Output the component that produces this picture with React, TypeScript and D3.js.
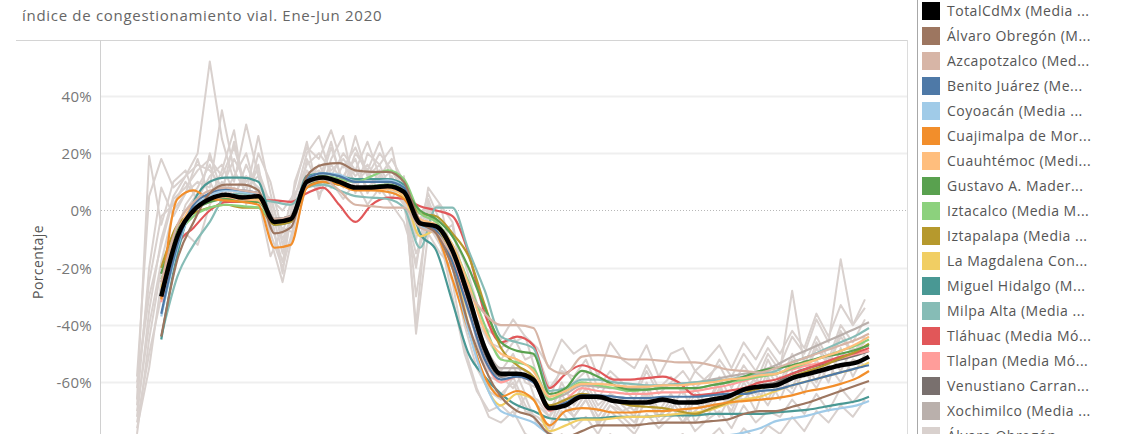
import React, { useEffect, useRef } from "react";
import * as d3 from "d3";

const title = "índice de congestionamiento vial. Ene-Jun 2020";
const yTicks = [40, 20, 0, -20, -40, -60];

// day of year (0 = 1 Jan 2020) for the 7-day moving average points
const avgDays = [
  6, 10, 14, 18, 22, 26, 30, 34, 38, 42, 46, 50, 54, 58, 62, 66, 70, 74, 78, 82, 86, 90, 94,
  98, 102, 106, 110, 114, 118, 122, 126, 130, 134, 138, 142, 146, 150, 154, 158, 162, 166,
  170, 174, 178, 181,
];

// raw daily values are sampled every 3 days starting on 1 Jan
const rawStep = 3;

// moving averages (%)
const totalCdMx = [-30, -9, 0, 4, 5.5, 4.5, 5, -4, -3, 10, 11.5, 10, 8, 8, 8.5, 6.5, -4.5, -5.5, -14, -30, -48, -57, -57, -59, -69, -68, -65, -65, -66.5, -67, -67, -66, -67, -67, -66, -65, -62.5, -61.5, -61, -58.5, -57, -55.5, -54, -53, -51];
const alvaroObregon = [-44, -17, -4, 6, 9, 9, 7, -8, -6, 12, 16, 16.5, 14, 13.5, 13.5, 10, -4, -8, -20, -40, -55, -65, -70, -72, -78, -79, -77, -75, -75, -75, -74.5, -74, -74, -74, -73.5, -73, -71, -70, -70, -68.5, -67, -65, -63, -61, -59.5];
const azcapotzalco = [-25, -5, 3, 7, 8, 7, 6, -3, -2, 9, 11, 7, 2, 1.5, 1, 1, -6, -8, -16, -28, -36, -40, -40, -41, -55, -57, -51, -50.5, -51, -52, -52, -52.5, -53, -53, -54, -55.5, -56, -56.5, -55, -53, -51, -49, -47, -45, -43];
const benitoJuarez = [-36, -12, 2, 6, 7.5, 7, 6, -3, -2, 11, 13, 12, 10, 10, 10, 8, -4, -7, -18, -35, -52, -59, -58, -60, -69, -67, -64.5, -64.5, -65, -65.5, -65.5, -65, -65, -65, -64.5, -64, -64, -63, -62.5, -61, -59.5, -58, -56.5, -55, -54];
const coyoacan = [-37, -13, 1, 5, 7, 6.5, 5.5, -4, -3, 11, 13, 12.5, 10, 10, 10.5, 8, -5, -8, -20, -42, -60, -70, -72, -74, -78, -79, -79, -79, -79.5, -80, -80, -80, -80, -79.5, -79, -78.5, -77.5, -76, -73.5, -72.5, -71.5, -70, -69, -68, -66.5];
const cuajimalpa = [-31, 4, 7, 4, 3.5, 3, 2, -13, -12, 8, 10, 9, 7, 7, 6.5, 4, -4, -8, -24, -42, -58, -65, -63, -66, -75, -70, -69, -69.5, -70.5, -70.5, -70, -70, -69.5, -69, -68, -67, -66.5, -66, -65.5, -64.5, -63, -62, -60.5, -58.5, -56];
const cuauhtemoc = [-25, -8, 2, 4, 5, 4, 3.5, -3, -2, 10, 11, 10.5, 8, 7.5, 7.5, 5.5, -3, -5, -12, -26, -42, -50, -52, -56, -65, -63, -60.5, -60.5, -61, -61.5, -61.5, -61, -61, -60.5, -60, -59, -58.5, -57.5, -57, -54.5, -53, -51, -49, -46.5, -44];
const gustavoAMadero = [-22, -7, 0, 3, 4, 3, 3, -4, -3, 9, 10, 9, 8, 8.5, 9, 7, 0, -3, -9, -20, -34, -46, -49, -50, -64, -62, -56, -58, -61, -62.5, -62.5, -62, -62, -62, -61, -60, -58, -56, -55, -54, -52.5, -51, -50, -48.5, -47];
const iztacalco = [-24, -9, -2, 1, 2, 1.5, 1, -4, -3, 10, 12, 11, 10, 12, 14, 11, -1, -4, -12, -25, -40, -52, -53, -55, -66, -63, -60, -61, -62, -63, -62.5, -62, -62, -62, -61, -60, -59, -58, -57, -55, -53, -51, -49, -47, -45];
const iztapalapa = [-20, -5, -1, 1, 2, 1, 1, -5, -4, 8, 10, 9, 8, 8, 8, 7, -1, -2, -8, -16, -33, -48, -54, -58, -68, -66, -64, -65, -66.5, -68, -68.5, -69, -70, -71, -69, -67, -64, -62, -61, -58, -56, -54, -51.5, -49, -46.5];
const magdalenaContreras = [-27, -10, 1, 4, 5, 4, 4, -4, -3, 10, 11, 10, 8, 7.5, 7.5, 5, -9, -7, -18, -40, -60, -68, -64, -66, -77, -75, -73, -73, -72.5, -72, -72, -71.5, -71, -70.5, -69.5, -67.5, -66, -65, -63, -61, -59.5, -58, -56.5, -55, -53];
const miguelHidalgo = [-45, -15, 3, 10, 11.5, 11.5, 10, -5, -4, 12, 13, 12, 11, 11, 11, 9, -8, -14, -32, -50, -58, -64, -68, -70, -72.5, -73, -72.5, -72.5, -72, -72, -72, -71.5, -71.5, -71.5, -71, -71, -71, -71, -70.5, -70, -69.5, -68.5, -67.5, -66.5, -65];
const milpaAlta = [-44, -23, -12, -4, 5, 6, 4, 3, 2, 8, 9, 7, 5, 4.5, 4, 1, -13, 1, 1, -14, -28, -44, -46, -48, -63, -62, -59, -59, -60, -60.5, -61, -61, -60.5, -60, -59.5, -59, -58, -57, -56, -53, -51, -48.5, -46, -43.5, -41];
const tlahuac = [-30, -12, -6, 0, 3, 3, 3.5, 3.5, 3, 6, 8, 2, -4, 2, 4.5, 4, 1.5, 0, -2, -15, -36, -46, -44, -47, -62, -57, -54, -56, -59, -59, -58.5, -58, -60, -64.5, -64, -63, -62, -60, -59, -57, -55, -53, -51, -49.5, -48];
const tlalpan = [-32, -11, 0, 3, 4.5, 4, 4, -4, -3, 10, 11, 10, 8, 8, 8, 6, -5, -7, -17, -35, -52, -60, -58, -60, -70, -66, -62, -63, -63.5, -64, -64, -63.5, -63.5, -63, -62, -61, -59.5, -58, -57, -55.5, -54, -53, -51.5, -50, -49];
const venustianoCarranza = [-22, -8, 1, 4, 5, 5, 5, -3, -2, 10, 12, 11, 10, 10, 10, 8, -4, -6, -15, -32, -50, -58, -57, -59, -69, -68, -65, -65.5, -66.5, -67, -67, -66.5, -67, -66.5, -66, -65, -63, -61, -60, -57, -55, -53.5, -52, -50.5, -49];
const xochimilco = [-28, -9, 1, 4, 5, 4.5, 4, -4, -3, 9, 11, 10, 8, 8, 8, 6, -5, -6, -14, -30, -47, -55, -55, -58, -66, -64, -61, -61.5, -62, -62, -61.5, -61, -60.5, -60, -59, -58, -57, -56, -54, -51, -48.5, -46, -43.5, -41, -39];

// raw daily values (%), one every 3 days
const rawA = [-58, 5, 18, 8, 12, 20, 52, 25, 10, 30, 12, 0, -22, 10, 22, 18, 28, 15, 22, 12, 20, 14, 8, -40, 4, -8, -5, -28, -38, -42, -45, -38, -44, -48, -55, -45, -50, -47, -58, -46, -52, -55, -47, -58, -50, -48, -56, -52, -47, -55, -46, -52, -44, -50, -42, -48, -36, -44, -33, -40, -31];
const rawB = [-72, -35, -10, 5, 12, 16, 14, 8, 18, 10, 14, 2, -15, 5, 16, 20, 14, 18, 12, 16, 10, 14, 6, -5, 2, -10, -30, -50, -63, -70, -68, -72, -65, -75, -78, -70, -76, -72, -78, -70, -74, -78, -71, -76, -72, -70, -77, -73, -70, -76, -68, -74, -70, -72, -66, -71, -64, -70, -62, -67, -62];
const rawC = [-78, -45, -20, -8, 0, 6, 10, 2, 8, 4, 6, -8, -20, -4, 12, 8, 16, 10, 14, 8, 12, 8, 2, -15, -5, -12, -25, -48, -62, -72, -74, -70, -78, -80, -85, -78, -82, -80, -84, -78, -82, -85, -79, -83, -80, -78, -84, -80, -76, -82, -76, -80, -75, -78, -72, -77, -70, -74, -68, -72, -66];
const rawD = [-66, 19, -5, 10, 14, 2, 20, 6, 24, 4, 16, -10, -25, -5, 18, 8, 22, 10, 26, 12, 16, 6, 10, -43, -8, -15, -20, -40, -55, -63, -66, -58, -68, -74, -76, -64, -72, -66, -75, -68, -72, -76, -64, -74, -70, -62, -74, -68, -60, -72, -62, -70, -58, -66, -56, -64, -52, -60, -48, -58, -50];
const rawE = [-62, -25, -2, 2, 10, 4, 12, 16, 6, 12, 8, 4, -10, 0, 12, 14, 8, 16, 10, 14, 6, 12, 4, -8, 0, -6, -12, -22, -40, -52, -56, -50, -60, -62, -70, -62, -66, -60, -68, -64, -66, -70, -62, -72, -68, -74, -66, -72, -64, -70, -60, -66, -56, -62, -52, -58, -48, -54, -44, -50, -44];
const rawF = [-74, -50, -30, -15, -8, -12, 2, 10, 4, 16, 6, 4, 0, 6, 12, 6, 10, 4, 10, 2, 8, 2, -4, -18, 0, 2, -16, -30, -38, -46, -48, -44, -52, -50, -62, -56, -58, -52, -62, -56, -60, -64, -54, -62, -58, -64, -56, -60, -52, -58, -50, -56, -48, -54, -44, -50, -38, -46, -17, -40, -34];
const rawG = [-70, -40, -18, 0, 6, 10, 8, 35, 14, 6, 26, 6, -12, 2, 14, 10, 24, 8, 20, 14, 24, 10, 4, -10, 6, -4, -8, -18, -32, -46, -52, -46, -44, -58, -66, -54, -60, -56, -66, -58, -62, -66, -56, -64, -60, -56, -62, -58, -54, -62, -54, -60, -50, -56, -28, -54, -44, -52, -40, -46, -38];
const rawH = [-60, -30, -12, 4, 8, 14, 18, 12, 22, 8, 12, -4, -18, 4, 20, 26, 12, 20, 14, 24, 12, 18, 10, -2, 2, -6, -14, -36, -52, -62, -64, -60, -70, -72, -76, -68, -72, -66, -74, -68, -70, -74, -66, -72, -68, -74, -70, -66, -72, -64, -66, -62, -68, -60, -64, -56, -62, -54, -60, -52, -54];
const rawI = [-68, -20, 8, -2, 6, 18, 4, 14, 28, 2, 20, 10, -8, 8, 24, 4, 18, 26, 6, 20, 16, 22, 2, -20, 8, 2, -4, -26, -46, -58, -60, -54, -64, -66, -72, -60, -68, -62, -70, -64, -68, -72, -60, -70, -64, -70, -62, -68, -58, -66, -58, -64, -52, -60, -50, -58, -46, -54, -42, -50, -46];
const rawJ = [-76, -55, -25, -12, 2, 8, 16, 4, 12, 20, 4, -16, -6, -8, 10, 16, 8, 12, 18, 6, 14, 4, 12, -30, -2, -12, -18, -32, -44, -56, -58, -62, -56, -68, -72, -66, -70, -64, -72, -66, -70, -68, -64, -72, -66, -72, -64, -70, -62, -68, -64, -58, -66, -58, -62, -52, -60, -50, -56, -48, -50];

const rawSeries = [rawA, rawB, rawC, rawD, rawE, rawF, rawG, rawH, rawI, rawJ];

const legendLabels = [
  "TotalCdMx (Media ...",
  "Álvaro Obregón (M...",
  "Azcapotzalco (Med...",
  "Benito Juárez (Me...",
  "Coyoacán (Media ...",
  "Cuajimalpa de Mor...",
  "Cuauhtémoc (Medi...",
  "Gustavo A. Mader...",
  "Iztacalco (Media M...",
  "Iztapalapa (Media ...",
  "La Magdalena Con...",
  "Miguel Hidalgo (M...",
  "Milpa Alta (Media ...",
  "Tláhuac (Media Mó...",
  "Tlalpan (Media Mó...",
  "Venustiano Carran...",
  "Xochimilco (Media ...",
  "Álvaro Obregón",
];
const legendColors = [
  "#000000", "#9d7660", "#d7b5a6", "#4e79a7", "#a0cbe8", "#f28e2b", "#ffbe7d", "#59a14f",
  "#8cd17d", "#b6992d", "#f1ce63", "#499894", "#86bcb6", "#e15759", "#ff9d9a", "#79706e",
  "#bab0ac", "#d9d1ce",
];
const avgSeries = [
  totalCdMx, alvaroObregon, azcapotzalco, benitoJuarez, coyoacan, cuajimalpa, cuauhtemoc,
  gustavoAMadero, iztacalco, iztapalapa, magdalenaContreras, miguelHidalgo, milpaAlta,
  tlahuac, tlalpan, venustianoCarranza, xochimilco,
];
const rawColor = "#d9d1ce";

const W = 1139;
const H = 434;
const font = "'Open Sans', sans-serif";

const App = () => {
  const svgRef = useRef<SVGSVGElement | null>(null);

  useEffect(() => {
    const svg = d3.select(svgRef.current);
    svg.selectAll("*").remove();

    const left = 100;
    const right = 907;
    const top = 40;

    const x = d3.scaleLinear().domain([0, 181]).range([137, 869]);
    const y = d3.scaleLinear().domain([-78, 59.5]).range([H, top]);

    svg
      .append("text")
      .attr("x", 22)
      .attr("y", 21)
      .attr("font-family", font)
      .attr("font-size", 15)
      .attr("letter-spacing", 0.7)
      .attr("fill", "#666")
      .text(title);

    // frame
    svg.append("line").attr("x1", 16).attr("x2", right).attr("y1", top + 0.5).attr("y2", top + 0.5).attr("stroke", "#d4d4d4");
    svg.append("line").attr("x1", left + 0.5).attr("x2", left + 0.5).attr("y1", top).attr("y2", H).attr("stroke", "#d0d0d0");
    svg.append("line").attr("x1", right + 0.5).attr("x2", right + 0.5).attr("y1", top).attr("y2", H).attr("stroke", "#dcdcdc");
    svg.append("line").attr("x1", 917.5).attr("x2", 917.5).attr("y1", 0).attr("y2", H).attr("stroke", "#a8a8a8");

    // grid + ticks
    yTicks.forEach((t) => {
      const yy = Math.round(y(t)) + 0.5;
      svg
        .append("line")
        .attr("x1", left + 1)
        .attr("x2", right)
        .attr("y1", yy)
        .attr("y2", yy)
        .attr("stroke", t === 0 ? "#b8b8b8" : "#efefef")
        .attr("stroke-width", t === 0 ? 1 : 2)
        .attr("stroke-dasharray", t === 0 ? "1,2" : null);
      svg
        .append("text")
        .attr("x", 92)
        .attr("y", yy)
        .attr("dy", "0.35em")
        .attr("text-anchor", "end")
        .attr("font-family", font)
        .attr("font-size", 15)
        .attr("letter-spacing", 0.3)
        .attr("fill", "#777")
        .text(`${t}%`);
    });

    svg
      .append("text")
      .attr("transform", `translate(43,262) rotate(-90)`)
      .attr("text-anchor", "middle")
      .attr("font-family", font)
      .attr("font-size", 14)
      .attr("letter-spacing", 0.4)
      .attr("fill", "#555")
      .text("Porcentaje");

    svg
      .append("clipPath")
      .attr("id", "plot-clip")
      .append("rect")
      .attr("x", left + 1)
      .attr("y", top + 1)
      .attr("width", right - left - 1)
      .attr("height", H - top);

    const g = svg.append("g").attr("clip-path", "url(#plot-clip)");

    const rawLine = d3
      .line<number>()
      .x((_, i) => x(i * rawStep))
      .y((d) => y(d));

    rawSeries.forEach((s) => {
      g.append("path")
        .attr("d", rawLine(s))
        .attr("fill", "none")
        .attr("stroke", rawColor)
        .attr("stroke-width", 2)
        .attr("stroke-linejoin", "round");
    });

    const avgLine = d3
      .line<number>()
      .x((_, i) => x(avgDays[i]))
      .y((d) => y(d))
      .curve(d3.curveMonotoneX);

    // draw districts from last to first, total on top
    for (let i = avgSeries.length - 1; i >= 0; i--) {
      g.append("path")
        .attr("d", avgLine(avgSeries[i]))
        .attr("fill", "none")
        .attr("stroke", legendColors[i])
        .attr("stroke-width", i === 0 ? 4.5 : 2.2)
        .attr("stroke-linejoin", "round");
    }

    // legend
    legendLabels.forEach((label, i) => {
      const ly = 2 + i * 25;
      svg
        .append("rect")
        .attr("x", 922)
        .attr("y", ly)
        .attr("width", 18)
        .attr("height", 18)
        .attr("fill", legendColors[i]);
      svg
        .append("text")
        .attr("x", 947)
        .attr("y", ly + 9)
        .attr("dy", "0.35em")
        .attr("font-family", font)
        .attr("font-size", 14)
        .attr("letter-spacing", 0.5)
        .attr("fill", "#555")
        .text(label);
    });
  }, []);

  return (
    <div style={{ position: "absolute", left: 0, top: 0 }}>
      <svg ref={svgRef} width={W} height={H}></svg>
    </div>
  );
};

export default App;
